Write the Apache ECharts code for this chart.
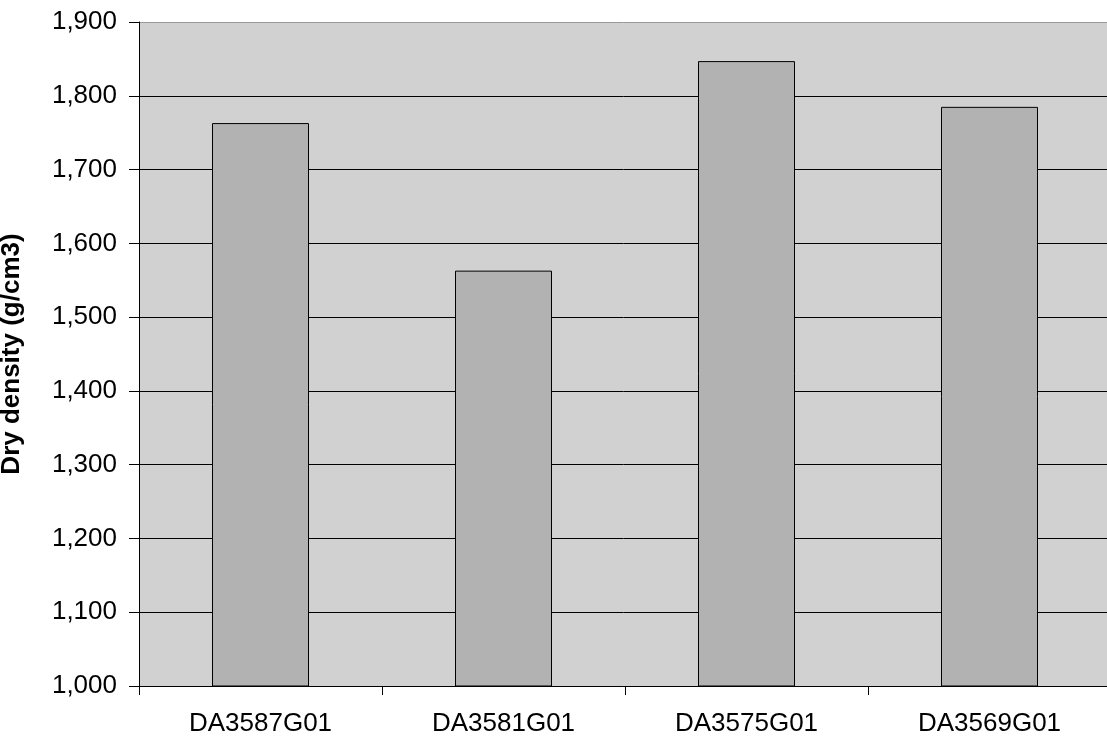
<!DOCTYPE html>
<html>
<head>
<meta charset="utf-8">
<script src="https://cdn.jsdelivr.net/npm/echarts@6/dist/echarts.min.js"></script>
<style>
  html, body { margin: 0; padding: 0; background: #fff; }
  #chart { width: 1107px; height: 738px; }
</style>
</head>
<body>
<div id="chart"></div>
<script>
const categories = ['DA3587G01', 'DA3581G01', 'DA3575G01', 'DA3569G01']
const dryDensity = [1763, 1563, 1847, 1785]
const yMin = 1000
const yMax = 1900
const yStep = 100

// gridlines black, top one (1,900) lighter like the plot border
const gridColors = []
for (let v = yMin; v <= yMax; v += yStep) {
  gridColors.push(v === yMax ? '#9a9a9a' : '#000000')
}

const chart = echarts.init(document.getElementById('chart'))
chart.setOption({
  animation: false,
  textStyle: { fontFamily: 'Liberation Sans, Arial, sans-serif' },
  grid: {
    left: 139,
    right: -4, // plot area runs past the right edge in the original
    top: 22,
    bottom: 52,
    outerBoundsMode: 'none',
    containLabel: false,
    show: true,
    backgroundColor: '#d1d1d1',
    borderWidth: 0
  },
  xAxis: {
    type: 'category',
    data: categories,
    axisLine: { lineStyle: { color: '#000', width: 1 } },
    axisTick: { show: true, length: 9, alignWithLabel: false, lineStyle: { color: '#000' } },
    axisLabel: { color: '#000', fontSize: 26, margin: 25 },
    splitLine: { show: false }
  },
  yAxis: {
    type: 'value',
    min: yMin,
    max: yMax,
    interval: yStep,
    name: 'Dry density (g/cm3)',
    nameLocation: 'middle',
    nameGap: 114,
    nameTextStyle: { color: '#000', fontSize: 26, fontWeight: 'bold' },
    axisLine: { show: true, lineStyle: { color: '#000', width: 1 } },
    axisTick: { show: true, length: 10, lineStyle: { color: '#000' } },
    axisLabel: {
      color: '#000',
      fontSize: 26,
      margin: 22,
      formatter: v => v.toString().replace(/\B(?=(\d{3})+(?!\d))/g, ',')
    },
    splitLine: { show: true, lineStyle: { color: gridColors, width: 1 } }
  },
  series: [{
    type: 'bar',
    data: dryDensity,
    barWidth: 97,
    itemStyle: {
      color: '#b2b2b2',
      borderColor: '#000',
      borderWidth: 1
    }
  }]
})
</script>
</body>
</html>
